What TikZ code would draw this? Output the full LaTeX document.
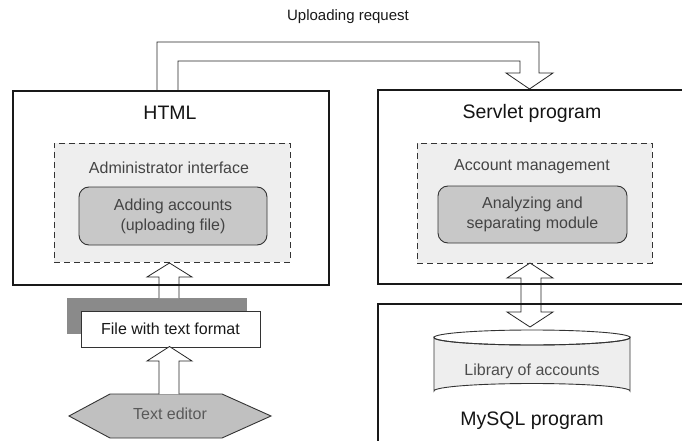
\documentclass[tikz,border=0pt]{standalone}
\usepackage{fontspec}
\setmainfont{Liberation Sans}
\usetikzlibrary{calc}
\definecolor{dashfill}{HTML}{EEEEEE}
\definecolor{innerfill}{HTML}{C8C8C8}
\definecolor{hexfill}{HTML}{C0C0C0}
\definecolor{shadowgray}{HTML}{8A8A8A}
\definecolor{linegray}{HTML}{333333}
\definecolor{txtgray}{HTML}{444444}
\tikzset{
  bigbox/.style={draw=black!90, line width=2.2pt, fill=white, inner sep=0pt},
  bigborder/.style={draw=black!90, line width=2.2pt, fill=none, inner sep=0pt},
  dashbox/.style={draw=linegray, line width=1pt, dash pattern=on 6pt off 4pt, fill=dashfill, inner sep=0pt},
  innerbox/.style={draw=linegray, line width=0.9pt, rounded corners=10pt, fill=innerfill, inner sep=0pt,
     align=center, text=txtgray, font=\fontsize{16}{20}\selectfont},
  titletext/.style={inner sep=0pt, text=black!92, font=\fontsize{19.5}{22}\selectfont},
  labeltext/.style={inner sep=0pt, text=txtgray, font=\fontsize{16}{19}\selectfont},
  blockarrow/.style={draw=black!85, line width=0.8pt, fill=white, line join=miter},
}
\begin{document}
\begin{tikzpicture}[x=1pt,y=-1pt]
\useasboundingbox (0,0) rectangle (682,441);
\clip (0,0) rectangle (682,441);
\fill[white] (0,0) rectangle (682,441);

% big boxes
\node[bigbox, minimum width=316pt, minimum height=194pt] (html) at (171,188) {};
\node[bigbox, minimum width=342pt, minimum height=194pt] (servlet) at (549,187) {};
\node[bigbox, minimum width=342pt, minimum height=166pt] (mysql) at (549,387) {};

% dashed boxes
\node[dashbox, minimum width=236pt, minimum height=119pt] (admin) at (172,202.5) {};
\node[dashbox, minimum width=235pt, minimum height=120pt] (acct) at (534.5,203) {};

% titles
\node[titletext] (htmlt) at (170,113) {HTML};
\node[titletext] (servt) at (532,113) {Servlet program};
\node[titletext] (mysqlt) at (532,421) {MySQL program};

\node[labeltext] (admint) at (169,168) {Administrator interface};
\node[labeltext] (acctt) at (532,167) {Account management};

% inner rounded boxes
\node[innerbox, minimum width=188pt, minimum height=58pt] (adding) at (173,216) {Adding accounts\\(uploading file)};
\node[innerbox, minimum width=189pt, minimum height=57pt] (analyz) at (532.5,214.5) {Analyzing and\\separating module};

% upload request arrow
\node[inner sep=0pt, font=\fontsize{15}{17}\selectfont, text=black!90] (upl) at (348,17) {Uploading request};
\draw[blockarrow, fill=none] (157,91) -- (157,42) -- (539,42) -- (539,73) -- (553,73) -- (529.5,89)
   -- (506,73) -- (520,73) -- (520,61) -- (178,61) -- (178,91);

% file with text format
\node[fill=shadowgray, minimum width=180pt, minimum height=36pt, inner sep=0pt] (shadow) at (157,316) {};
\node[draw=linegray, line width=0.9pt, fill=white, minimum width=179pt, minimum height=36pt, inner sep=0pt,
      font=\fontsize{16}{19}\selectfont, text=black!90] (file) at (170.5,329) {File with text format};

% arrow file -> admin
\draw[blockarrow] (159,298) -- (159,277) -- (147,277) -- (169.5,263) -- (192,277) -- (179,277) -- (179,298);

% text editor hexagon
\draw[draw=linegray, line width=0.9pt, fill=hexfill] (110,394) -- (222,394) -- (271,416) -- (222,438)
   -- (110,438) -- (69,416) -- cycle;
\node[labeltext, text=black!65] (editor) at (170,414) {Text editor};

% arrow editor -> file
\draw[blockarrow] (159,394) -- (159,361) -- (147,361) -- (169.5,346.5) -- (192,361) -- (179,361) -- (179,394);

% cylinder
\path[draw=linegray, line width=0.9pt, fill=dashfill] (434,337.5) -- (434,391) arc (180:0:98pt and 7.5pt)
   -- (630,337.5) arc (0:-180:98pt and 7.5pt) -- cycle;
\draw[draw=linegray, line width=0.9pt] (532,337.5) ellipse (98pt and 7.5pt);
\node[labeltext, text=black!70] (lib) at (532,371) {Library of accounts};

% double arrow servlet <-> mysql
\draw[blockarrow] (521,278) -- (507,278) -- (530,263) -- (553,278) -- (541,278) -- (541,312) -- (553,312)
   -- (530,327) -- (507,312) -- (521,312) -- cycle;

% redraw big borders on top
\node[bigborder, minimum width=316pt, minimum height=194pt] at (html.center) {};
\node[bigborder, minimum width=342pt, minimum height=194pt] at (servlet.center) {};
\node[bigborder, minimum width=342pt, minimum height=166pt] at (mysql.center) {};
\end{tikzpicture}
\end{document}
